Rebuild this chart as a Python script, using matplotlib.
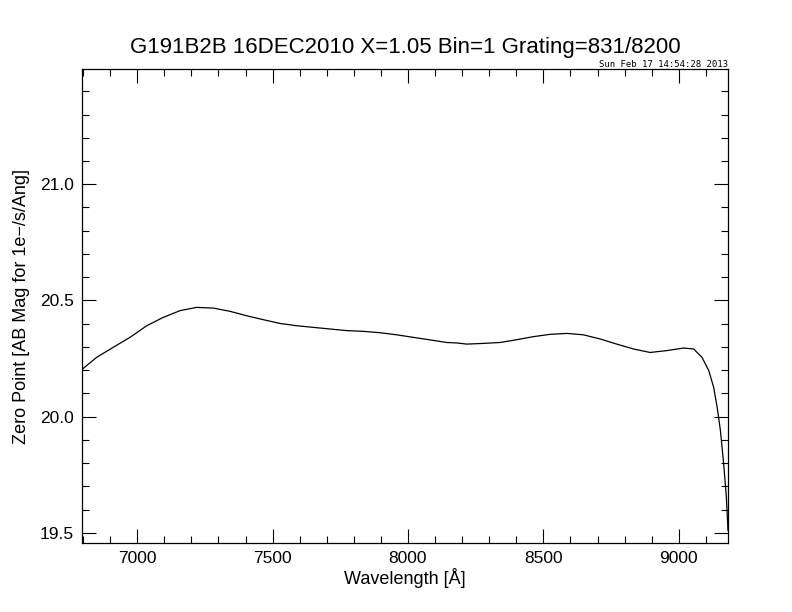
import matplotlib
matplotlib.use("Agg")
import matplotlib.pyplot as plt
from matplotlib.ticker import MultipleLocator, FormatStrFormatter

wavelength = [6796, 6798, 6850, 6911, 6973, 7035, 7096, 7158, 7219, 7281, 7343, 7404,
              7466, 7527, 7589, 7651, 7712, 7774, 7835, 7897, 7958, 8020, 8082,
              8143, 8180, 8217, 8278, 8340, 8402, 8463, 8525, 8587, 8648, 8710,
              8771, 8833, 8894, 8956, 9018, 9055, 9086, 9111, 9129, 9142, 9154,
              9166, 9176, 9182]
zero_point = [20.200, 20.205, 20.255, 20.298, 20.341, 20.391, 20.427, 20.456, 20.470,
              20.467, 20.453, 20.434, 20.417, 20.401, 20.391, 20.384, 20.377,
              20.370, 20.367, 20.361, 20.352, 20.341, 20.330, 20.319, 20.317,
              20.312, 20.315, 20.319, 20.331, 20.344, 20.354, 20.358, 20.352,
              20.334, 20.312, 20.291, 20.276, 20.284, 20.295, 20.291, 20.255,
              20.198, 20.126, 20.040, 19.940, 19.797, 19.653, 19.510]

title = "G191B2B 16DEC2010 X=1.05 Bin=1 Grating=831/8200"
timestamp = "Sun Feb 17 14:54:28 2013"
xlabel = "Wavelength [Å]"
ylabel = "Zero Point [AB Mag for 1e\u2212/s/Ang]"

plt.rcParams['font.family'] = ['Liberation Sans', 'DejaVu Sans']

fig = plt.figure(figsize=(7.92, 6.12), dpi=100)
ax = fig.add_axes([82/792, 1 - 543/612, (728-82)/792, (543-69)/612])

ax.plot(wavelength, zero_point, color='black', lw=0.9)
ax.set_xlim(6796, 9182)
ax.set_ylim(19.456, 21.496)

ax.xaxis.set_major_locator(MultipleLocator(500))
ax.xaxis.set_minor_locator(MultipleLocator(100))
ax.yaxis.set_major_locator(MultipleLocator(0.5))
ax.yaxis.set_minor_locator(MultipleLocator(0.1))
ax.yaxis.set_major_formatter(FormatStrFormatter('%.1f'))

ax.tick_params(which='both', direction='in', top=True, right=True, width=0.8,
               labelsize=12.5, colors='black')
ax.tick_params(which='major', length=10, pad=6)
ax.tick_params(which='minor', length=5)
for s in ax.spines.values():
    s.set_linewidth(0.9)

ax.set_xlabel(xlabel, fontsize=13, labelpad=1)
ax.set_ylabel(ylabel, fontsize=13, labelpad=7)
fig.text((82+728)/2/792, 1 - 48/612, title, ha='center', va='center', fontsize=16)
fig.text(728/792, 1 - 69/612, timestamp, ha='right', va='bottom', fontsize=6.5,
         family='DejaVu Sans Mono')

fig.savefig("out.png", dpi=100)
